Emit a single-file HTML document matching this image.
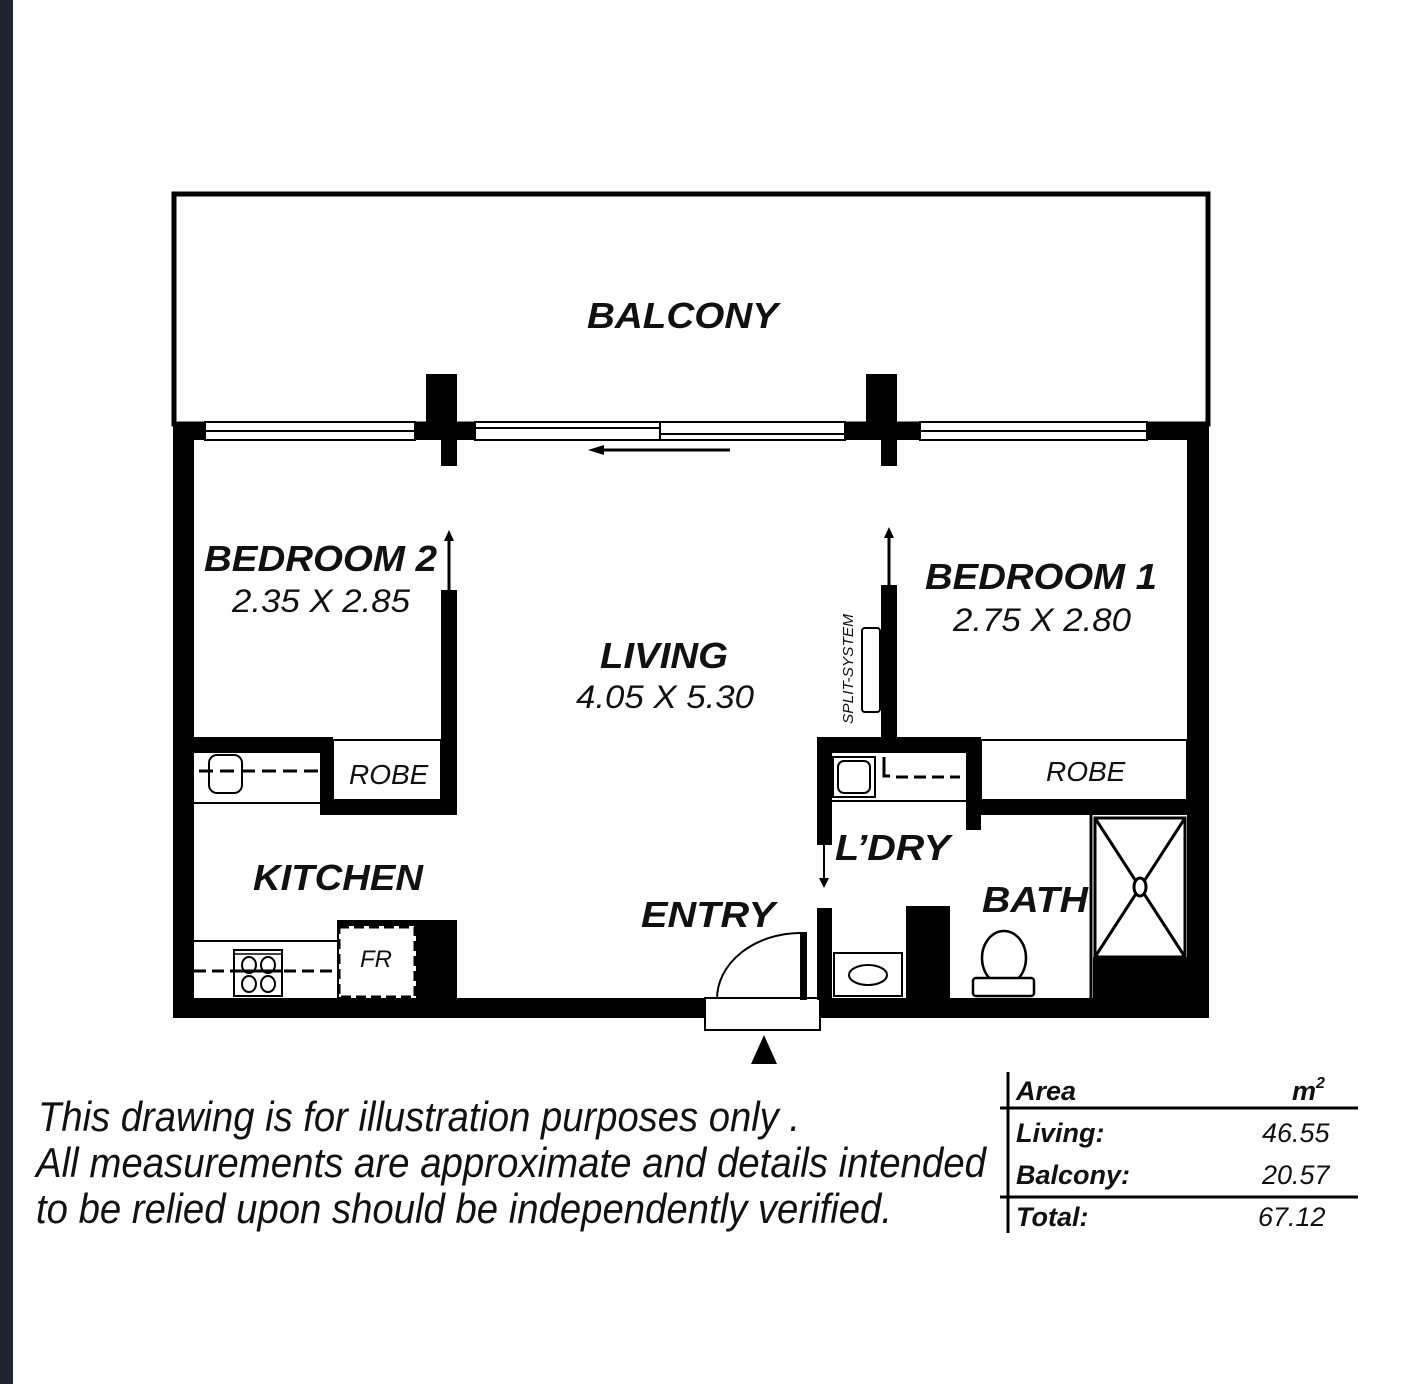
<!DOCTYPE html>
<html><head><meta charset="utf-8"><style>
html,body{margin:0;padding:0;background:#fff}
svg{display:block}
text{font-family:"Liberation Sans",sans-serif;font-style:italic;fill:#111}
</style></head><body>
<svg width="1410" height="1384" viewBox="0 0 1410 1384" xmlns="http://www.w3.org/2000/svg">
<rect x="0" y="0" width="1410" height="1384" fill="#fff"/>
<rect x="0" y="0" width="13" height="1384" fill="#1f2630"/>
<rect x="174" y="194" width="1034" height="230" fill="none" stroke="#000" stroke-width="5"/>
<rect x="173" y="422" width="32" height="18" fill="#000"/>
<rect x="205" y="422" width="210" height="18" fill="#fff" stroke="#000" stroke-width="2"/>
<line x1="205" y1="431" x2="415" y2="431" stroke="#000" stroke-width="2"/>
<rect x="415" y="422" width="60" height="18" fill="#000"/>
<rect x="426" y="374" width="31" height="50" fill="#000"/>
<rect x="441" y="438" width="16" height="28" fill="#000"/>
<rect x="475" y="422" width="370" height="18" fill="#fff" stroke="#000" stroke-width="2"/>
<line x1="475" y1="428" x2="660" y2="428" stroke="#000" stroke-width="2"/>
<line x1="660" y1="434" x2="845" y2="434" stroke="#000" stroke-width="2"/>
<line x1="660" y1="422" x2="660" y2="440" stroke="#000" stroke-width="2"/>
<rect x="845" y="422" width="75" height="18" fill="#000"/>
<rect x="866" y="374" width="31" height="50" fill="#000"/>
<rect x="881" y="438" width="16" height="28" fill="#000"/>
<rect x="920" y="422" width="227" height="18" fill="#fff" stroke="#000" stroke-width="2"/>
<line x1="920" y1="431" x2="1147" y2="431" stroke="#000" stroke-width="2"/>
<rect x="1147" y="422" width="62" height="18" fill="#000"/>
<line x1="600" y1="450" x2="730" y2="450" stroke="#000" stroke-width="3"/>
<polygon points="588,450 604,445 604,455" fill="#000"/>
<rect x="173" y="422" width="21" height="596" fill="#000"/>
<rect x="1187" y="422" width="22" height="596" fill="#000"/>
<rect x="173" y="998" width="532" height="20" fill="#000"/>
<rect x="806" y="998" width="403" height="20" fill="#000"/>
<rect x="441" y="590" width="16" height="225" fill="#000"/>
<line x1="449" y1="590" x2="449" y2="538" stroke="#000" stroke-width="3"/>
<polygon points="449,530 444,541 454,541" fill="#000"/>
<rect x="194" y="737" width="139" height="16" fill="#000"/>
<rect x="320" y="737" width="13" height="78" fill="#000"/>
<rect x="320" y="800" width="137" height="15" fill="#000"/>
<rect x="333" y="740" width="108" height="60" fill="#fff" stroke="#000" stroke-width="2"/>
<line x1="194" y1="803" x2="320" y2="803" stroke="#000" stroke-width="2"/>
<rect x="209" y="755" width="33" height="38" rx="8" fill="none" stroke="#000" stroke-width="2"/>
<line x1="199" y1="771" x2="320" y2="771" stroke="#000" stroke-width="3" stroke-dasharray="14,7"/>
<line x1="194" y1="941" x2="337" y2="941" stroke="#000" stroke-width="2"/>
<line x1="194" y1="971" x2="337" y2="971" stroke="#000" stroke-width="3" stroke-dasharray="12,6"/>
<rect x="234" y="950" width="48" height="46" fill="#fff" stroke="#000" stroke-width="2"/>
<line x1="234" y1="954" x2="282" y2="954" stroke="#000" stroke-width="1.5"/>
<ellipse cx="249" cy="965" rx="7" ry="8" fill="none" stroke="#000" stroke-width="2"/>
<ellipse cx="268" cy="965" rx="7" ry="8" fill="none" stroke="#000" stroke-width="2"/>
<ellipse cx="249" cy="984" rx="7" ry="8" fill="none" stroke="#000" stroke-width="2"/>
<ellipse cx="268" cy="984" rx="7" ry="8" fill="none" stroke="#000" stroke-width="2"/>
<line x1="234" y1="971" x2="282" y2="971" stroke="#000" stroke-width="3"/>
<rect x="337" y="920" width="120" height="6" fill="#000"/>
<rect x="337" y="920" width="5" height="78" fill="#000"/>
<rect x="339" y="927" width="76" height="70" fill="#fff" stroke="#000" stroke-width="3" stroke-dasharray="10,5"/>
<rect x="416" y="920" width="41" height="80" fill="#000"/>
<rect x="705" y="998" width="115" height="32" fill="#fff" stroke="#000" stroke-width="2"/>
<rect x="707" y="999" width="111" height="20" fill="#fff"/>
<rect x="800" y="932" width="7" height="68" fill="#000"/>
<path d="M717,999 A84,66 0 0 1 800,933" fill="none" stroke="#000" stroke-width="2"/>
<polygon points="764,1035 751,1064 777,1064" fill="#000"/>
<rect x="881" y="585" width="16" height="160" fill="#000"/>
<line x1="889" y1="585" x2="889" y2="535" stroke="#000" stroke-width="3"/>
<polygon points="889,527 884,538 894,538" fill="#000"/>
<rect x="862" y="628" width="18" height="84" rx="3" fill="#fff" stroke="#000" stroke-width="2"/>
<text transform="translate(853,724) rotate(-90)" font-size="15" textLength="110" lengthAdjust="spacingAndGlyphs">SPLIT-SYSTEM</text>
<rect x="817" y="737" width="164" height="16" fill="#000"/>
<rect x="817" y="737" width="15" height="108" fill="#000"/>
<rect x="966" y="737" width="15" height="93" fill="#000"/>
<rect x="966" y="800" width="221" height="15" fill="#000"/>
<rect x="981" y="740" width="206" height="60" fill="#fff" stroke="#000" stroke-width="2"/>
<line x1="832" y1="801" x2="966" y2="801" stroke="#000" stroke-width="2"/>
<rect x="833" y="757" width="42" height="40" fill="#fff" stroke="#000" stroke-width="2"/>
<rect x="838" y="761" width="32" height="32" rx="6" fill="none" stroke="#000" stroke-width="2"/>
<path d="M884,757 V776 H890" fill="none" stroke="#000" stroke-width="3"/>
<line x1="896" y1="777" x2="960" y2="777" stroke="#000" stroke-width="3" stroke-dasharray="12,6"/>
<line x1="824" y1="845" x2="824" y2="880" stroke="#000" stroke-width="2"/>
<polygon points="824,888 819,878 829,878" fill="#000"/>
<rect x="817" y="908" width="15" height="92" fill="#000"/>
<rect x="906" y="906" width="44" height="94" fill="#000"/>
<rect x="834" y="953" width="68" height="43" fill="#fff" stroke="#000" stroke-width="2"/>
<ellipse cx="868" cy="975" rx="19" ry="10" fill="none" stroke="#000" stroke-width="2"/>
<line x1="1091" y1="815" x2="1091" y2="998" stroke="#000" stroke-width="3"/>
<rect x="1095" y="818" width="90" height="139" fill="#fff" stroke="#000" stroke-width="3"/>
<line x1="1095" y1="818" x2="1185" y2="957" stroke="#000" stroke-width="3"/>
<line x1="1185" y1="818" x2="1095" y2="957" stroke="#000" stroke-width="3"/>
<ellipse cx="1140" cy="887" rx="6" ry="9" fill="#fff" stroke="#000" stroke-width="3"/>
<rect x="1093" y="957" width="95" height="43" fill="#000"/>
<ellipse cx="1004" cy="958" rx="22" ry="27" fill="#fff" stroke="#000" stroke-width="2.5"/>
<rect x="973" y="978" width="61" height="18" rx="3" fill="#fff" stroke="#000" stroke-width="2.5"/>
<g font-weight="bold">
<text x="587" y="328" font-size="36" textLength="191" lengthAdjust="spacingAndGlyphs">BALCONY</text>
<text x="204" y="571" font-size="36" textLength="233" lengthAdjust="spacingAndGlyphs">BEDROOM 2</text>
<text x="600" y="668" font-size="36" textLength="128" lengthAdjust="spacingAndGlyphs">LIVING</text>
<text x="925" y="589" font-size="36" textLength="232" lengthAdjust="spacingAndGlyphs">BEDROOM 1</text>
<text x="253" y="890" font-size="36" textLength="170" lengthAdjust="spacingAndGlyphs">KITCHEN</text>
<text x="641" y="927" font-size="36" textLength="134" lengthAdjust="spacingAndGlyphs">ENTRY</text>
<text x="835" y="860" font-size="36" textLength="115" lengthAdjust="spacingAndGlyphs">L’DRY</text>
<text x="982" y="912" font-size="36" textLength="106" lengthAdjust="spacingAndGlyphs">BATH</text>
</g>
<text x="232" y="612" font-size="32" textLength="178" lengthAdjust="spacingAndGlyphs">2.35 X 2.85</text>
<text x="576" y="708" font-size="32" textLength="178" lengthAdjust="spacingAndGlyphs">4.05 X 5.30</text>
<text x="953" y="631" font-size="32" textLength="178" lengthAdjust="spacingAndGlyphs">2.75 X 2.80</text>
<text x="349" y="784" font-size="28">ROBE</text>
<text x="1046" y="781" font-size="28">ROBE</text>
<text x="360" y="967" font-size="24">FR</text>
<text x="38" y="1131" font-size="42" textLength="762" lengthAdjust="spacingAndGlyphs">This drawing is for illustration purposes only .</text>
<text x="36" y="1177" font-size="42" textLength="950" lengthAdjust="spacingAndGlyphs">All measurements are approximate and details intended</text>
<text x="36" y="1223" font-size="42" textLength="856" lengthAdjust="spacingAndGlyphs">to be relied upon should be independently verified.</text>
<line x1="1008" y1="1072" x2="1008" y2="1233" stroke="#000" stroke-width="3"/>
<line x1="1000" y1="1108" x2="1358" y2="1108" stroke="#000" stroke-width="3"/>
<line x1="1000" y1="1197" x2="1358" y2="1197" stroke="#000" stroke-width="3"/>
<g font-weight="bold" font-size="27">
<text x="1016" y="1100">Area</text>
<text x="1292" y="1100">m<tspan font-size="16" dy="-12">2</tspan></text>
<text x="1016" y="1142">Living:</text>
<text x="1016" y="1184">Balcony:</text>
<text x="1016" y="1226">Total:</text>
</g>
<g font-size="27">
<text x="1262" y="1142">46.55</text>
<text x="1262" y="1184">20.57</text>
<text x="1258" y="1226">67.12</text>
</g>
</svg>
</body></html>
